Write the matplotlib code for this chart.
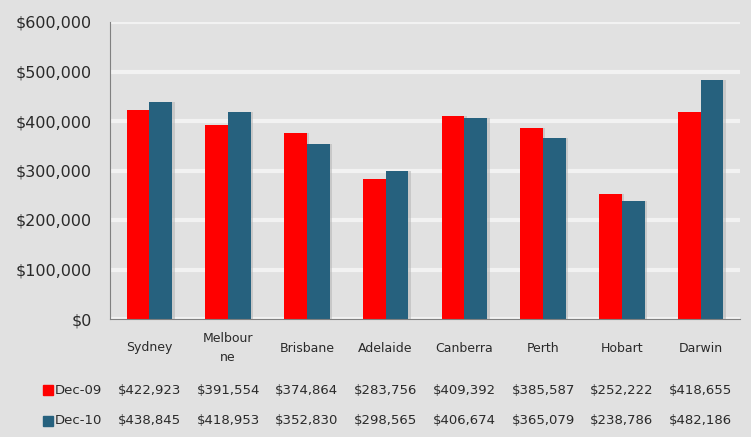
import matplotlib
matplotlib.use("Agg")
import matplotlib.pyplot as plt
import numpy as np

cities = ["Sydney", "Melbour\nne", "Brisbane", "Adelaide", "Canberra", "Perth", "Hobart", "Darwin"]
dec09 = [422923, 391554, 374864, 283756, 409392, 385587, 252222, 418655]
dec10 = [438845, 418953, 352830, 298565, 406674, 365079, 238786, 482186]
series_names = ["Dec-09", "Dec-10"]
colors = ["#ff0000", "#26617e"]
yticks = [0, 100000, 200000, 300000, 400000, 500000, 600000]

bg = "#e1e1e1"
txt = "#2a2a2a"
fig = plt.figure(figsize=(7.51, 4.37), dpi=100, facecolor=bg)
ax = fig.add_axes([110/751, 1-319/437, 630/751, (319-22)/437], facecolor=bg)

x = np.arange(len(cities))
w = 0.29
for i, vals in enumerate([dec09, dec10]):
    off = (i - 0.5) * w
    ax.bar(x + off + 0.03, vals, width=w, color="#b8b8b8", zorder=2, alpha=0.6)
    ax.bar(x + off, vals, width=w, color=colors[i], zorder=3)

ax.set_xlim(-0.5, len(cities) - 0.5)
ax.set_ylim(0, 600000)
ax.set_yticks(yticks)
ax.set_yticklabels(["${:,}".format(v) for v in yticks], fontsize=11.5, color=txt)
ax.tick_params(axis="y", length=0, pad=13)
ax.set_xticks([])
ax.grid(axis="y", color="#f2f2f2", linewidth=3, zorder=1)
for s in ["top", "right"]:
    ax.spines[s].set_visible(False)
ax.spines["left"].set_color("#808080")
ax.spines["bottom"].set_color("#808080")
ax.spines["left"].set_zorder(4)
ax.spines["bottom"].set_zorder(4)

trans = ax.get_xaxis_transform()
def fy(py):
    return 1 - py / 437
for xi, c in zip(x, cities):
    ax.annotate(c, xy=(xi, 0), xycoords=trans, xytext=(xi, fy(348)),
                textcoords=("data", "figure fraction"), fontsize=9, color=txt,
                ha="center", va="center", linespacing=1.6, annotation_clip=False)
rows_y = [390, 421]
for vals, py, col, name in zip([dec09, dec10], rows_y, colors, series_names):
    for xi, v in zip(x, vals):
        ax.annotate("${:,}".format(v), xy=(xi, 0), xycoords=trans, xytext=(xi, fy(py)),
                    textcoords=("data", "figure fraction"), fontsize=9.5, color=txt,
                    ha="center", va="center", annotation_clip=False)
    fig.patches.append(plt.Rectangle((43/751, fy(py) - 5/437), 10/751, 10/437,
                                     transform=fig.transFigure, color=col))
    fig.text(55/751, fy(py), name, fontsize=9.5, color=txt, ha="left", va="center")

fig.savefig("out.png", dpi=100, facecolor=bg)
